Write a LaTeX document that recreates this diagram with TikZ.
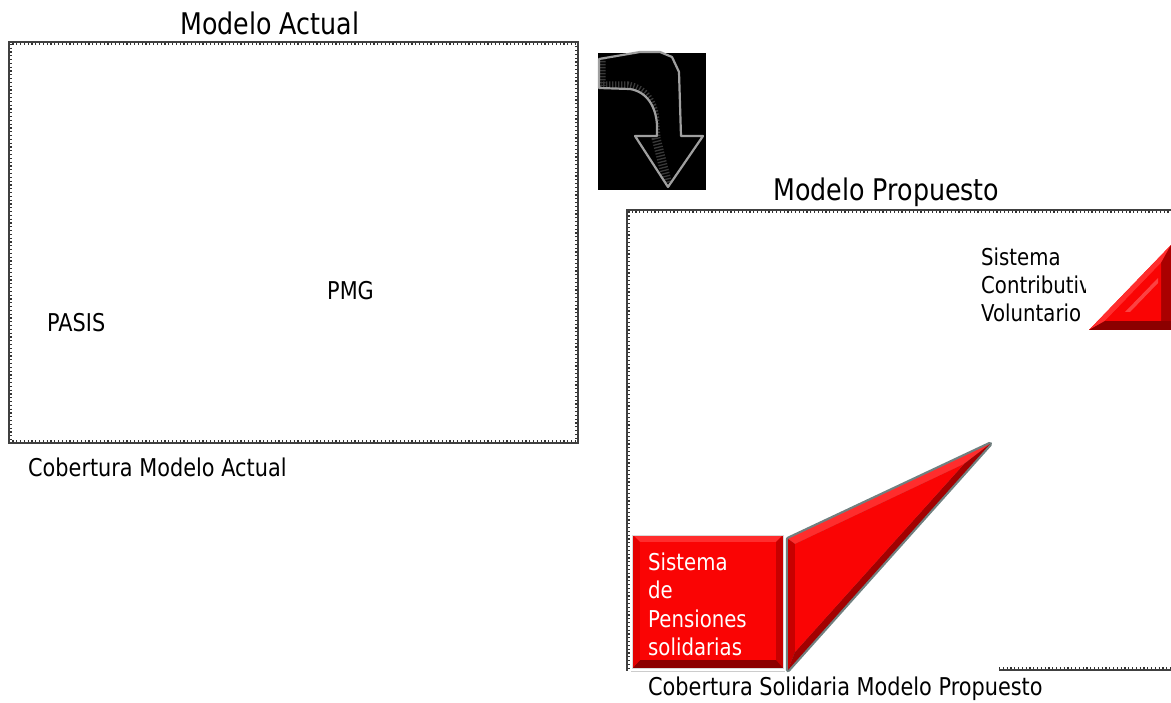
\documentclass[tikz,border=0pt]{standalone}
\usepackage{fontspec}
\setmainfont{DejaVu Sans}[FakeStretch=0.85]
\definecolor{bred}{RGB}{250,4,4}
\definecolor{bredlight}{RGB}{255,45,45}
\definecolor{breddark}{RGB}{140,0,0}
\definecolor{bredmid}{RGB}{200,0,0}
\definecolor{slategrey}{RGB}{112,128,128}
\tikzset{
  frameline/.style={draw=black!75, line width=1.1pt},
  frameticks/.style={draw=black!80, line width=2.2pt, dash pattern=on 1.2pt off 2.6pt},
  title/.style={anchor=base west, inner sep=0pt, font=\fontsize{29.8}{34}\selectfont},
  label/.style={anchor=base west, inner sep=0pt, font=\fontsize{24.5}{28}\selectfont},
  small/.style={anchor=base west, inner sep=0pt, font=\fontsize{23.2}{28}\selectfont},
}
\begin{document}
\begin{tikzpicture}[x=1pt,y=-1pt]
\useasboundingbox (0,0) rectangle (1171,703);
\begin{scope}
\clip (0,0) rectangle (1171,703);

% ---- left frame: Modelo Actual
\draw[frameline] (9,42) rectangle (578,443);
\draw[frameticks] (10.8,43.8) rectangle (576.2,441.2);
\node[title] (tA) at (180,35) {Modelo Actual};
\node[label] (pmg) at (327,300) {PMG};
\node[label] (pasis) at (47,331.5) {PASIS};
\node[label] (cobA) at (28,476.5) {Cobertura Modelo Actual};

% ---- arrow icon
\fill[black] (598,53) rectangle (706,190);
\begin{scope}
\clip (599,59) -- (640,52) -- (660,52) -- (672,57) -- (679,72) -- (681,136) -- (703,136)
  -- (668,187) -- (635,136) -- (657,136) -- (657,125) .. controls (656,108) and (648,92) .. (630,89)
  -- (599,88) -- cycle;
\draw[gray!45!black, line width=9pt, dash pattern=on 1.3pt off 1.7pt]
  (601,58) -- (601,86) -- (628,86) .. controls (648,90) and (655,106) .. (655,125) -- (656,138) -- (668,185);
\end{scope}
\draw[gray!75, line width=2.2pt, line join=round]
  (599,59) -- (640,52) -- (660,52) -- (672,57) -- (679,72) -- (681,136) -- (703,136)
  -- (668,187) -- (635,136) -- (657,136) -- (657,125) .. controls (656,108) and (648,92) .. (630,89)
  -- (599,88) -- cycle;

% ---- right frame: Modelo Propuesto
\draw[frameline] (1180,210) -- (627,210) -- (627,671);
\draw[frameline] (999,670) -- (1180,670);
\draw[frameticks] (1180,211.8) -- (628.8,211.8) -- (628.8,669);
\draw[frameticks] (999,668.2) -- (1180,668.2);
\draw[gray!40, line width=1pt] (631,671.5) -- (785,671.5);
\node[title] (tP) at (773,201) {Modelo Propuesto};
\node[label] (cobP) at (648,695) {Cobertura Solidaria Modelo Propuesto};

% ---- red box
\fill[bred] (632.7,535) rectangle (783,668);
\fill[bredlight] (632.7,535) -- (783,535) -- (776,542) -- (640,542) -- cycle;
\fill[bredmid] (783,535) -- (783,668) -- (776,660) -- (776,542) -- cycle;
\fill[breddark] (632.7,668) -- (783,668) -- (776,660) -- (640,660) -- cycle;
\fill[red!90!black] (632.7,535) -- (640,542) -- (640,660) -- (632.7,668) -- cycle;
\fill[bred] (640,542) rectangle (776,660);
\draw[gray!30, line width=0.8pt] (632.7,535) rectangle (783,668);
\node[small, white] (s1) at (648,570) {Sistema};
\node[small, white] (s2) at (648,598.5) {de};
\node[small, white] (s3) at (648,627) {Pensiones};
\node[small, white] (s4) at (648,655.5) {solidarias};

% ---- big triangle
\draw[slategrey, line width=4.5pt, line join=round, fill=slategrey] (788,539) -- (990,444) -- (788,670) -- cycle;
\fill[bredlight] (788,539) -- (990,444) -- (964,464) -- (795,544) -- cycle;
\fill[bredmid] (788,539) -- (795,544) -- (795,652) -- (788,670) -- cycle;
\fill[breddark!80!bred] (990,444) -- (788,670) -- (795,652) -- (964,464) -- cycle;
\fill[bred] (795,544) -- (964,464) -- (795,652) -- cycle;

% ---- small triangle
\fill[bred] (1171,245) -- (1089,330) -- (1180,330) -- cycle;
\fill[bredlight] (1171,245) -- (1089,330) -- (1105,321) -- (1161,263) -- cycle;
\fill[breddark] (1089,330) -- (1180,330) -- (1180,321) -- (1105,321) -- cycle;
\fill[bredmid!85!black] (1161,263) -- (1161,321) -- (1180,321) -- (1180,245) -- (1171,245) -- cycle;
\fill[bred] (1105,321) -- (1161,263) -- (1161,321) -- cycle;
\fill[white, opacity=0.25] (1125,312) -- (1158,278) -- (1158,283) -- (1130,312) -- cycle;

% ---- text clipped
\begin{scope}
\clip (970,230) rectangle (1085,335);
\node[small] (c1) at (981,266) {Sistema};
\node[small] (c2) at (981,293.5) {Contributivo};
\node[small] (c3) at (981,321.5) {Voluntario};
\end{scope}
\end{scope}
\end{tikzpicture}
\end{document}
